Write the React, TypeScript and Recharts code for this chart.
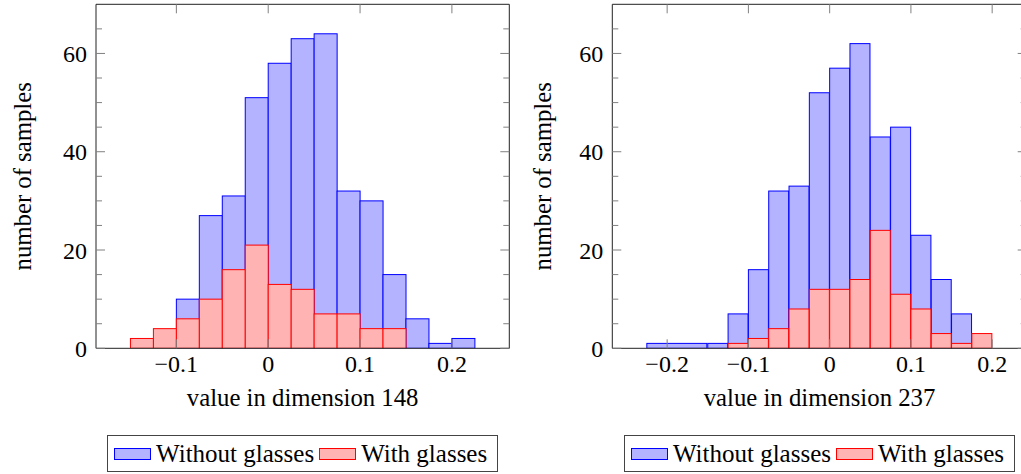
import React from "react";
import { ComposedChart, Bar, XAxis, YAxis, Legend } from "recharts";

const FONT = "'Liberation Serif', 'Times New Roman', Times, 'DejaVu Serif', 'Noto Serif', serif";
const AXIS = "#222";
const TICK = "#808080";
const BIN = 0.025;
const THIN = 0.01;

// dimension 148
const binStart148 = [-0.15, -0.125, -0.1, -0.075, -0.05, -0.025, 0, 0.025, 0.05, 0.075, 0.1, 0.125, 0.15, 0.175, 0.2];
const without148 = [null, null, 10, 27, 31, 51, 58, 63, 64, 32, 30, 15, 6, 1, 2];
const with148 = [2, 4, 6, 10, 16, 21, 13, 12, 7, 7, 4, 4, null, null, null];
const xTicks148 = [-0.1, 0, 0.1, 0.2];

// dimension 237 (first "without" bar covers three empty bins, as in the original)
const binStart237 = [-0.225, -0.2, -0.175, -0.15, -0.125, -0.1, -0.075, -0.05, -0.025, 0, 0.025, 0.05, 0.075, 0.1, 0.125, 0.15, 0.175];
const without237 = [1, null, null, 1, 7, 16, 32, 33, 52, 57, 62, 43, 45, 23, 14, 7, null];
const withoutSpan237 = [3, 1, 1, 1, 1, 1, 1, 1, 1, 1, 1, 1, 1, 1, 1, 1, 1];
const with237 = [null, null, null, null, 1, 2, 4, 8, 12, 12, 14, 24, 11, 8, 3, 1, 3];
const xTicks237 = [-0.2, -0.1, 0, 0.1, 0.2];

const yTicks = [0, 20, 40, 60];
const yMinorTicks = [5, 10, 15, 25, 30, 35, 45, 50, 55, 65];

const legendOrder = ["without", "with"];
const SERIES: Record<string, { name: string; fill: string; stroke: string }> = {
  without: { name: "Without glasses", fill: "#b3b3ff", stroke: "#0000ff" },
  with: { name: "With glasses", fill: "#ffb3b3", stroke: "#ff0000" },
};

function buildRows(starts: number[], without: (number | null)[], withG: (number | null)[], spans?: number[]) {
  return starts.map((s, i) => ({
    x: s + BIN / 2,
    without: without[i],
    with: withG[i],
    span: spans ? spans[i] : 1,
  }));
}

const rows148 = buildRows(binStart148, without148, with148);
const rows237 = buildRows(binStart237, without237, with237, withoutSpan237);

const fmt = (v: number) => (v < 0 ? `\u2212${Math.abs(v)}` : `${v}`);
const noTick = () => <g />;

const histShape = (key: string) => (props: any) => {
  const { x, y, width, height, payload } = props;
  if (!payload || payload[key] == null || !height) return <g />;
  const span = key === "without" && payload.span ? payload.span : 1;
  const s = SERIES[key];
  return <rect x={x} y={y} width={width * span} height={height} fill={s.fill} stroke={s.stroke} strokeWidth={1} />;
};

const renderLegend = (props: any) => {
  const items = [...(props.payload || [])].sort(
    (a: any, b: any) => legendOrder.indexOf(a.dataKey) - legendOrder.indexOf(b.dataKey)
  );
  return (
    <div style={{ display: "flex", justifyContent: "center" }}>
      <div
        style={{
          display: "flex",
          alignItems: "center",
          border: "1px solid #444",
          height: 35,
          padding: "0 10px 0 6px",
          fontSize: 25,
          fontFamily: FONT,
          color: "#000",
          background: "#fff",
        }}
      >
        {items.map((it: any, i: number) => {
          const s = SERIES[it.dataKey];
          return (
            <div key={i} style={{ display: "flex", alignItems: "center", marginLeft: i ? 5 : 0 }}>
              <div style={{ width: 35, height: 10, background: s.fill, border: `1px solid ${s.stroke}` }} />
              <span style={{ marginLeft: 5, lineHeight: "35px", whiteSpace: "nowrap" }}>{s.name}</span>
            </div>
          );
        })}
      </div>
    </div>
  );
};

function Histogram({ rows, domain, xTicks, xLabel, yAxisWidth, marginRight, left }: any) {
  const W = 520;
  const H = 474;
  const plotWidth = W - yAxisWidth - marginRight;
  return (
    <div style={{ position: "absolute", left, top: 0, width: W, height: H }}>
      <ComposedChart
        width={W}
        height={H}
        data={rows}
        margin={{ top: 4.3, right: marginRight, bottom: 55.7, left: 0 }}
        barCategoryGap={0}
        barGap={0}
        style={{ fontFamily: FONT }}
      >
        <Bar xAxisId="blue" yAxisId="y" dataKey="without" name={SERIES.without.name} fill={SERIES.without.fill} stroke={SERIES.without.stroke} shape={histShape("without")} isAnimationActive={false} />
        <Bar xAxisId="red" yAxisId="y" dataKey="with" name={SERIES.with.name} fill={SERIES.with.fill} stroke={SERIES.with.stroke} shape={histShape("with")} isAnimationActive={false} />

        <XAxis
          xAxisId="blue"
          dataKey="x"
          type="number"
          domain={domain}
          allowDataOverflow
          ticks={xTicks}
          interval={0}
          tickFormatter={fmt}
          tickLine={false}
          tickSize={0}
          tickMargin={7}
          height={70}
          axisLine={{ stroke: AXIS }}
          tick={{ fontSize: 24, fill: "#000", fontFamily: FONT }}
          label={{ value: xLabel, position: "insideBottom", offset: 12, fontSize: 24.75, fill: "#000", fontFamily: FONT }}
        />
        <XAxis xAxisId="red" dataKey="x" type="number" domain={domain} allowDataOverflow hide height={0} />
        <XAxis
          xAxisId="bottomTicks"
          dataKey="x"
          type="number"
          domain={domain}
          allowDataOverflow
          ticks={xTicks}
          interval={0}
          mirror
          height={THIN}
          tickSize={9}
          tickLine={{ stroke: TICK }}
          axisLine={false}
          tick={noTick}
        />
        <XAxis
          xAxisId="topTicks"
          orientation="top"
          dataKey="x"
          type="number"
          domain={domain}
          allowDataOverflow
          ticks={xTicks}
          interval={0}
          mirror
          height={THIN}
          tickSize={9}
          tickLine={{ stroke: TICK }}
          axisLine={{ stroke: AXIS }}
          tick={noTick}
        />

        <YAxis
          yAxisId="y"
          type="number"
          domain={[0, 70]}
          allowDataOverflow
          ticks={yTicks}
          interval={0}
          width={yAxisWidth}
          tickLine={false}
          tickSize={0}
          tickMargin={9}
          axisLine={{ stroke: AXIS }}
          tick={{ fontSize: 24, fill: "#000", fontFamily: FONT }}
          label={{ value: "number of samples", angle: -90, position: "insideLeft", offset: 22.5, textAnchor: "middle", fontSize: 24.75, fill: "#000", fontFamily: FONT }}
        />
        <YAxis yAxisId="leftMajor" type="number" domain={[0, 70]} allowDataOverflow ticks={yTicks} interval={0} mirror width={THIN} tickSize={9} tickLine={{ stroke: TICK }} axisLine={false} tick={noTick} />
        <YAxis yAxisId="leftMinor" type="number" domain={[0, 70]} allowDataOverflow ticks={yMinorTicks} interval={0} mirror width={THIN} tickSize={6} tickLine={{ stroke: TICK }} axisLine={false} tick={noTick} />
        <YAxis yAxisId="rightMajor" orientation="right" type="number" domain={[0, 70]} allowDataOverflow ticks={yTicks} interval={0} mirror width={THIN} tickSize={9} tickLine={{ stroke: TICK }} axisLine={{ stroke: AXIS }} tick={noTick} />
        <YAxis yAxisId="rightMinor" orientation="right" type="number" domain={[0, 70]} allowDataOverflow ticks={yMinorTicks} interval={0} mirror width={THIN} tickSize={6} tickLine={{ stroke: TICK }} axisLine={false} tick={noTick} />

        <Legend
          verticalAlign="middle"
          align="center"
          layout="horizontal"
          wrapperStyle={{ top: 435, left: yAxisWidth, width: plotWidth }}
          content={renderLegend}
        />
      </ComposedChart>
    </div>
  );
}

export default function App() {
  return (
    <div
      style={{
        position: "fixed",
        left: 0,
        top: 0,
        width: 1021,
        height: 474,
        overflow: "hidden",
        background: "#fff",
        fontFamily: FONT,
      }}
    >
      <Histogram
        rows={rows148}
        domain={[-0.1875, 0.2625]}
        xTicks={xTicks148}
        xLabel="value in dimension 148"
        yAxisWidth={96}
        marginRight={10.7}
        left={0}
      />
      <Histogram
        rows={rows237}
        domain={[-0.2675, 0.2425]}
        xTicks={xTicks237}
        xLabel="value in dimension 237"
        yAxisWidth={92.3}
        marginRight={13.3}
        left={520}
      />
    </div>
  );
}
